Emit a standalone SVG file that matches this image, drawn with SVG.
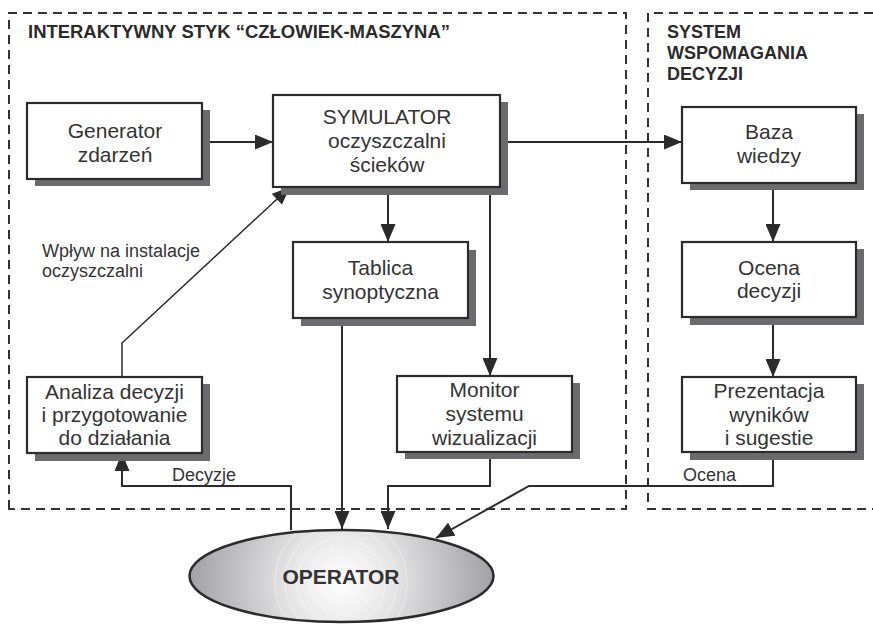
<svg xmlns="http://www.w3.org/2000/svg" width="873" height="626" viewBox="0 0 873 626">
<style>
.box{fill:#fff;stroke:#2b2b2b;stroke-width:2.2}
.sh{fill:#6b6b6d}
.t{font-family:"Liberation Sans",Arial,sans-serif;font-size:21px;fill:#333;text-anchor:middle}
.lb{font-family:"Liberation Sans",Arial,sans-serif;font-size:18px;fill:#333}
.hd{font-family:"Liberation Sans",Arial,sans-serif;font-size:18px;font-weight:bold;fill:#2b2b2b}
.dash{fill:none;stroke:#333;stroke-width:2;stroke-dasharray:9 6}
.ln{fill:none;stroke:#2b2b2b;stroke-width:2}
.thin{fill:none;stroke:#2b2b2b;stroke-width:1.5}
.arr{marker-end:url(#ah)}
</style>
<defs>
<marker id="ah" markerWidth="18" markerHeight="15" refX="18" refY="7.5" orient="auto" markerUnits="userSpaceOnUse">
<path d="M0,0 L18,7.5 L0,15 z" fill="#2b2b2b"/>
</marker>
<radialGradient id="og" gradientUnits="userSpaceOnUse" cx="341" cy="582" r="160">
<stop offset="0" stop-color="#ffffff"/>
<stop offset="0.3" stop-color="#e8e8e9"/>
<stop offset="0.65" stop-color="#c2c2c4"/>
<stop offset="1" stop-color="#9c9c9e"/>
</radialGradient>
<clipPath id="oc"><ellipse cx="341.5" cy="576" rx="152" ry="46"/></clipPath>
</defs>

<g id="region-hmi">
<path class="dash" d="M9,509 L9,13 L626,13 L626,509 Z"/>
<text class="hd" x="28" y="38" textLength="422" lengthAdjust="spacingAndGlyphs">INTERAKTYWNY STYK “CZŁOWIEK-MASZYNA”</text>
</g>
<g id="region-dss">
<path class="dash" d="M873,13 L648,13 L648,509 L873,509"/>
<text class="hd" x="667" y="38">SYSTEM</text>
<text class="hd" x="667" y="59">WSPOMAGANIA</text>
<text class="hd" x="667" y="80">DECYZJI</text>
</g>

<g id="connectors">
<line class="ln arr" x1="202" y1="142" x2="273" y2="142"/>
<line class="ln arr" x1="500" y1="142" x2="682" y2="142"/>
<line class="ln arr" x1="388" y1="187" x2="388" y2="242"/>
<line class="ln arr" x1="490" y1="187" x2="490" y2="376"/>
<polyline class="thin arr" points="122,377 122,343 290,187"/>
<line class="ln arr" x1="342" y1="318" x2="342" y2="529"/>
<polyline class="ln arr" points="490,452 490,486 388,486 388,529"/>
<polyline class="ln arr" points="773,452 773,486 529,486 436,538"/>
<polyline class="ln arr" points="291,530 291,486 122,486 122,453"/>
<line class="ln arr" x1="773" y1="183" x2="773" y2="242"/>
<line class="ln arr" x1="773" y1="317" x2="773" y2="377"/>
<text class="lb" x="42" y="257">Wpływ na instalacje</text>
<text class="lb" x="42" y="277">oczyszczalni</text>
<text class="lb" x="172" y="481">Decyzje</text>
<text class="lb" x="683" y="481">Ocena</text>
</g>

<g id="generator">
<rect class="sh" x="35" y="110" width="175" height="76"/>
<rect class="box" x="27" y="103" width="175" height="76"/>
<text class="t" x="115" y="138">Generator</text>
<text class="t" x="115" y="162">zdarzeń</text>
</g>
<g id="symulator">
<rect class="sh" x="281" y="102" width="227" height="93"/>
<rect class="box" x="273" y="95" width="227" height="92"/>
<text class="t" x="387" y="124">SYMULATOR</text>
<text class="t" x="387" y="148">oczyszczalni</text>
<text class="t" x="387" y="172">ścieków</text>
</g>
<g id="tablica">
<rect class="sh" x="301" y="250" width="175" height="76"/>
<rect class="box" x="293" y="242" width="175" height="76"/>
<text class="t" x="380.5" y="275">Tablica</text>
<text class="t" x="380.5" y="299">synoptyczna</text>
</g>
<g id="monitor">
<rect class="sh" x="405" y="383" width="175" height="76"/>
<rect class="box" x="397" y="376" width="175" height="76"/>
<text class="t" x="484.5" y="397">Monitor</text>
<text class="t" x="484.5" y="421">systemu</text>
<text class="t" x="484.5" y="445">wizualizacji</text>
</g>
<g id="analiza">
<rect class="sh" x="35" y="384" width="175" height="77"/>
<rect class="box" x="27" y="377" width="175" height="76"/>
<text class="t" x="114.5" y="399">Analiza decyzji</text>
<text class="t" x="114.5" y="422">i przygotowanie</text>
<text class="t" x="114.5" y="445">do działania</text>
</g>
<g id="baza">
<rect class="sh" x="690" y="114" width="174" height="76"/>
<rect class="box" x="682" y="107" width="174" height="76"/>
<text class="t" x="769" y="139">Baza</text>
<text class="t" x="769" y="163">wiedzy</text>
</g>
<g id="ocena">
<rect class="sh" x="690" y="249" width="174" height="76"/>
<rect class="box" x="682" y="242" width="174" height="75"/>
<text class="t" x="769" y="275">Ocena</text>
<text class="t" x="769" y="298">decyzji</text>
</g>
<g id="prezentacja">
<rect class="sh" x="690" y="384" width="174" height="76"/>
<rect class="box" x="682" y="377" width="174" height="75"/>
<text class="t" x="769" y="398">Prezentacja</text>
<text class="t" x="769" y="422">wyników</text>
<text class="t" x="769" y="445">i sugestie</text>
</g>
<g id="operator">
<ellipse cx="341.5" cy="576" rx="152" ry="46" fill="url(#og)"/>
<g clip-path="url(#oc)" fill="none" stroke="#ffffff" stroke-opacity="0.35" stroke-width="1.2">
<circle cx="341" cy="582" r="20"/>
<circle cx="341" cy="582" r="32"/>
<circle cx="341" cy="582" r="44"/>
<circle cx="341" cy="582" r="56"/>
<circle cx="341" cy="582" r="66"/>
</g>
<ellipse cx="341.5" cy="576" rx="152" ry="46" fill="none" stroke="#2b2b2b" stroke-width="2.5"/>
<text x="341" y="584" text-anchor="middle" style="font-family:'Liberation Sans',Arial,sans-serif;font-size:21px;font-weight:bold;fill:#333">OPERATOR</text>
</g>
</svg>
